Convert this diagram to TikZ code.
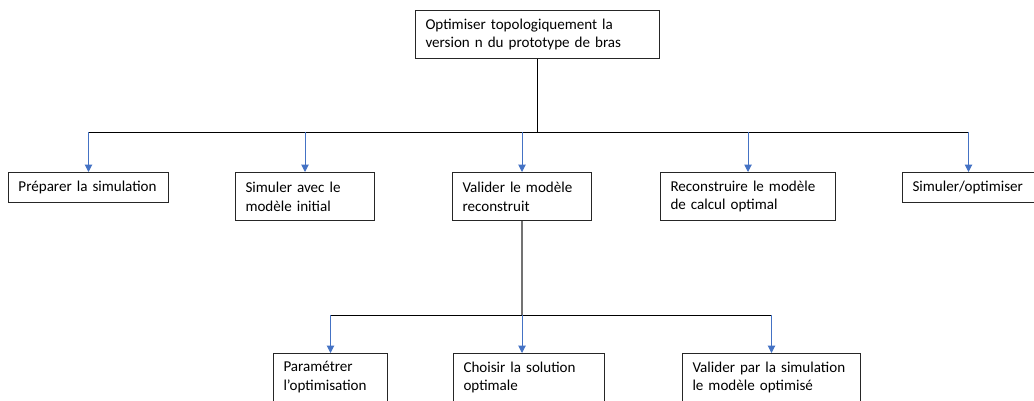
\documentclass[tikz,border=0pt]{standalone}
\usepackage{fontspec}
\setmainfont{Carlito}
\usetikzlibrary{arrows.meta}
\definecolor{dropblue}{RGB}{68,114,196}
\begin{document}
\begin{tikzpicture}[
    x=0.75pt, y=-0.75pt,
    box/.style={draw=black!85, line width=0.75pt, anchor=north west, align=left,
        inner xsep=7.5pt, inner ysep=0pt, font=\fontsize{11.3}{14.2}\selectfont},
    bus/.style={draw=black, line width=0.75pt},
    stem/.style={draw=black!55, line width=0.9pt},
    drop/.style={draw=dropblue, line width=0.75pt, -{Triangle[length=5.5pt,width=5.5pt]}}
  ]
  \path[use as bounding box] (0,0) rectangle (1034,400);
  \clip (0,0) rectangle (1034,400);

  % main task
  \node[box, text width=168pt, minimum height=36pt] (top) at (415,10)
    {Optimiser topologiquement la\\version n du prototype de bras};

  % first level
  \node[box, text width=105pt, minimum height=22.5pt] (prep) at (8,172) {Préparer la simulation};
  \node[box, text width=89.25pt, minimum height=36pt] (simu) at (235,172) {Simuler avec le\\modèle initial};
  \node[box, text width=89.25pt, minimum height=36pt] (valid) at (452,172) {Valider le modèle\\reconstruit};
  \node[box, text width=116.25pt, minimum height=36pt] (recon) at (660,172) {Reconstruire le modèle\\de calcul optimal};
  \node[box, text width=84pt, minimum height=22.5pt] (optim) at (902,172) {Simuler/optimiser};

  % second level
  \node[box, text width=70.5pt, minimum height=36pt] (param) at (273,353) {Paramétrer\\l’optimisation};
  \node[box, text width=98.25pt, minimum height=36pt] (choix) at (453,353) {Choisir la solution\\optimale};
  \node[box, text width=118.5pt, minimum height=36pt] (valopt) at (682,353) {Valider par la simulation\\le modèle optimisé};

  \coordinate (bus1) at (0,132);
  \coordinate (bus2) at (0,315);

  \draw[bus] (top.south) -- (top.south |- bus1);
  \draw[bus] (prep.north |- bus1) -- (optim.north |- bus1);
  \foreach \n in {prep,simu,valid,recon,optim}
    \draw[drop] (\n.north |- bus1) -- (\n.north);

  \draw[stem] (valid.south) -- (valid.south |- bus2);
  \draw[bus] (param.north |- bus2) -- (valopt.north |- bus2);
  \draw[drop] (param.north |- bus2) -- (param.north);
  \draw[drop] (valid.south |- bus2) -- (valid.south |- choix.north);
  \draw[drop] (valopt.north |- bus2) -- (valopt.north);
\end{tikzpicture}
\end{document}
